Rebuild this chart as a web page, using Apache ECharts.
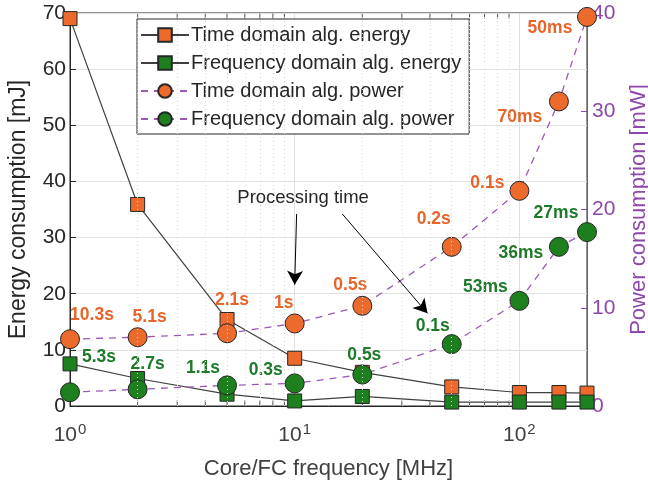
<!DOCTYPE html>
<html>
<head>
<meta charset="utf-8">
<script src="https://cdn.jsdelivr.net/npm/echarts@6/dist/echarts.min.js"></script>
<style>
  html, body { margin: 0; padding: 0; background: #fff; }
  #chart { width: 648px; height: 481px; }
</style>
</head>
<body>
<div id="chart"></div>
<script>
// core / FC frequency in MHz
const freq = [1, 2, 5, 10, 20, 50, 100, 150, 200];

// energy [mJ]
const timeEnergy = [69, 35.9, 15.4, 8.5, 6.0, 3.4, 2.4, 2.4, 2.3];
const freqEnergy = [7.5, 4.9, 2.1, 0.9, 1.7, 0.7, 0.7, 0.7, 0.7];

// power [mW]
const timePower = [6.8, 7.0, 7.4, 8.4, 10.2, 16.2, 21.9, 31.0, 39.6];
const freqPower = [1.4, 1.7, 2.1, 2.3, 3.2, 6.3, 10.7, 16.2, 17.7];

// processing time labels
const timeLabels = ["10.3s", "5.1s", "2.1s", "1s", "0.5s", "0.2s", "0.1s", "70ms", "50ms"];
const freqLabels = ["5.3s", "2.7s", "1.1s", "0.3s", "0.5s", "0.1s", "53ms", "36ms", "27ms"];

// label offsets (layout only)
const timeLabelOffset = [[22, -24], [12, -20], [5, -33], [-11, -20], [-12, -21], [-18, -28], [-32, -8], [-39, 16], [-37, 11]];
const freqLabelOffset = [[29, -35], [10, -25], [-24, -17], [-29, -13], [2, -19], [-19, -18], [-34, -14], [-38, 6], [-31, -19]];

const minorTicks = [2, 3, 4, 5, 6, 7, 8, 9, 20, 30, 40, 50, 60, 70, 80, 90];

const orange = "#EC6A2C";
const green = "#1D7F1D";
const orangeText = "#E8652A";
const greenText = "#1E7A2A";
const purple = "#8E47AA";
const dashPurple = "#9B59B6";
const dark = "#262626";
const gray = "#404040";

function pairs(ys) {
  return freq.map((x, i) => [x, ys[i]]);
}

function labelled(ys, labels, offsets, color) {
  return freq.map((x, i) => ({
    value: [x, ys[i]],
    label: {
      show: true,
      formatter: labels[i],
      position: "inside",
      offset: offsets[i],
      color: color,
      fontWeight: "bold",
      fontSize: 17.5,
      fontFamily: "Liberation Sans"
    }
  }));
}

function edgeTicks(yVal, dy) {
  return {
    type: "scatter",
    silent: true,
    yAxisIndex: 0,
    data: minorTicks.map(v => [v, yVal]),
    symbol: "rect",
    symbolSize: [1, 5],
    symbolOffset: [0, dy],
    itemStyle: { color: dark },
    z: 1
  };
}

const chart = echarts.init(document.getElementById("chart"));

const option = {
  animation: false,
  textStyle: { fontFamily: "Liberation Sans" },
  grid: {
    left: 70,
    right: 61,
    top: 13,
    bottom: 75,
    containLabel: false,
    outerBoundsMode: "none",
    show: true,
    borderColor: dark,
    borderWidth: 1
  },
  legend: {
    orient: "vertical",
    left: 137,
    top: 19,
    itemWidth: 48,
    itemHeight: 17,
    itemGap: 8,
    padding: [6, 8, 5, 3],
    backgroundColor: "#fff",
    borderColor: dark,
    borderWidth: 1,
    textStyle: { fontSize: 20, color: dark, fontFamily: "Liberation Sans", padding: [0, 0, 0, -3] },
    data: [
      "Time domain alg. energy",
      "Frequency domain alg. energy",
      "Time domain alg. power",
      "Frequency domain alg. power"
    ]
  },
  xAxis: {
    type: "log",
    logBase: 10,
    min: 1,
    max: 200,
    name: "Core/FC frequency [MHz]",
    nameLocation: "middle",
    nameGap: 52,
    nameTextStyle: { fontSize: 22, color: gray },
    axisLine: { lineStyle: { color: dark } },
    axisTick: { inside: true, length: 6, lineStyle: { color: dark } },
    axisLabel: {
      color: gray,
      fontSize: 21,
      margin: 16,
      formatter: function (v) {
        const e = Math.log10(v);
        if (Math.abs(e - Math.round(e)) > 1e-6) return "";
        return "10{s|" + Math.round(e) + "}";
      },
      rich: {
        s: { fontSize: 15, color: gray, verticalAlign: "top", padding: [0, 0, 12, 1] }
      }
    },
    splitLine: { show: true, lineStyle: { color: "#E0E0E0" } }
  },
  yAxis: [
    {
      type: "value",
      min: 0,
      max: 70,
      interval: 10,
      name: "Energy consumption [mJ]",
      nameLocation: "middle",
      nameGap: 40,
      nameTextStyle: { fontSize: 23, color: dark },
      axisLine: { show: true, lineStyle: { color: dark } },
      axisTick: { show: true, inside: true, length: 6, lineStyle: { color: dark } },
      axisLabel: { color: dark, fontSize: 21, margin: 4 },
      splitLine: { show: true, lineStyle: { color: "#E0E0E0" } }
    },
    {
      type: "value",
      min: 0,
      max: 40,
      interval: 10,
      position: "right",
      name: "Power consumption [mW]",
      nameLocation: "middle",
      nameGap: 41,
      nameRotate: 90,
      nameTextStyle: { fontSize: 22, color: purple },
      axisLine: { show: true, lineStyle: { color: purple } },
      axisTick: { show: true, inside: true, length: 6, lineStyle: { color: purple } },
      axisLabel: { color: purple, fontSize: 21, margin: 5 },
      splitLine: { show: false }
    }
  ],
  series: [
    {
      name: "Time domain alg. energy",
      type: "line",
      yAxisIndex: 0,
      data: pairs(timeEnergy),
      symbol: "rect",
      symbolSize: 14,
      lineStyle: { color: gray, width: 1.2 },
      itemStyle: { color: orange, borderColor: dark, borderWidth: 1 },
      z: 3,
      markLine: {
        silent: true,
        symbol: "none",
        label: { show: false },
        lineStyle: { color: "#D4D4D4", type: [1, 3], width: 1 },
        data: minorTicks.map(v => ({ xAxis: v }))
      }
    },
    {
      name: "Frequency domain alg. energy",
      type: "line",
      yAxisIndex: 0,
      data: pairs(freqEnergy),
      symbol: "rect",
      symbolSize: 14,
      lineStyle: { color: gray, width: 1.2 },
      itemStyle: { color: green, borderColor: dark, borderWidth: 1 },
      z: 3,
      markLine: {
        silent: true,
        symbol: ["none", "arrow"],
        symbolSize: [12, 14],
        label: { show: false },
        lineStyle: { color: "#000", type: "solid", width: 1 },
        data: [
          [{ coord: [10.2, 34.2] }, { coord: [10, 21.6] }],
          [{ coord: [16.3, 34.2] }, { coord: [39, 16.5] }]
        ]
      },
      markPoint: {
        silent: true,
        symbol: "circle",
        symbolSize: 0,
        data: [{ coord: [10.9, 37] }],
        label: {
          show: true,
          formatter: "Processing time",
          color: dark,
          fontSize: 18.5,
          fontFamily: "Liberation Sans"
        }
      }
    },
    {
      name: "Time domain alg. power",
      type: "line",
      yAxisIndex: 1,
      data: labelled(timePower, timeLabels, timeLabelOffset, orangeText),
      symbol: "circle",
      symbolSize: 19,
      lineStyle: { color: dashPurple, width: 1.3, type: [7, 6] },
      itemStyle: { color: orange, borderColor: dark, borderWidth: 1 },
      z: 4
    },
    {
      name: "Frequency domain alg. power",
      type: "line",
      yAxisIndex: 1,
      data: labelled(freqPower, freqLabels, freqLabelOffset, greenText),
      symbol: "circle",
      symbolSize: 19,
      lineStyle: { color: dashPurple, width: 1.3, type: [7, 6] },
      itemStyle: { color: green, borderColor: dark, borderWidth: 1 },
      z: 4
    },
    edgeTicks(0, -3),
    edgeTicks(70, 3)
  ]
};

chart.setOption(option);
</script>
</body>
</html>
